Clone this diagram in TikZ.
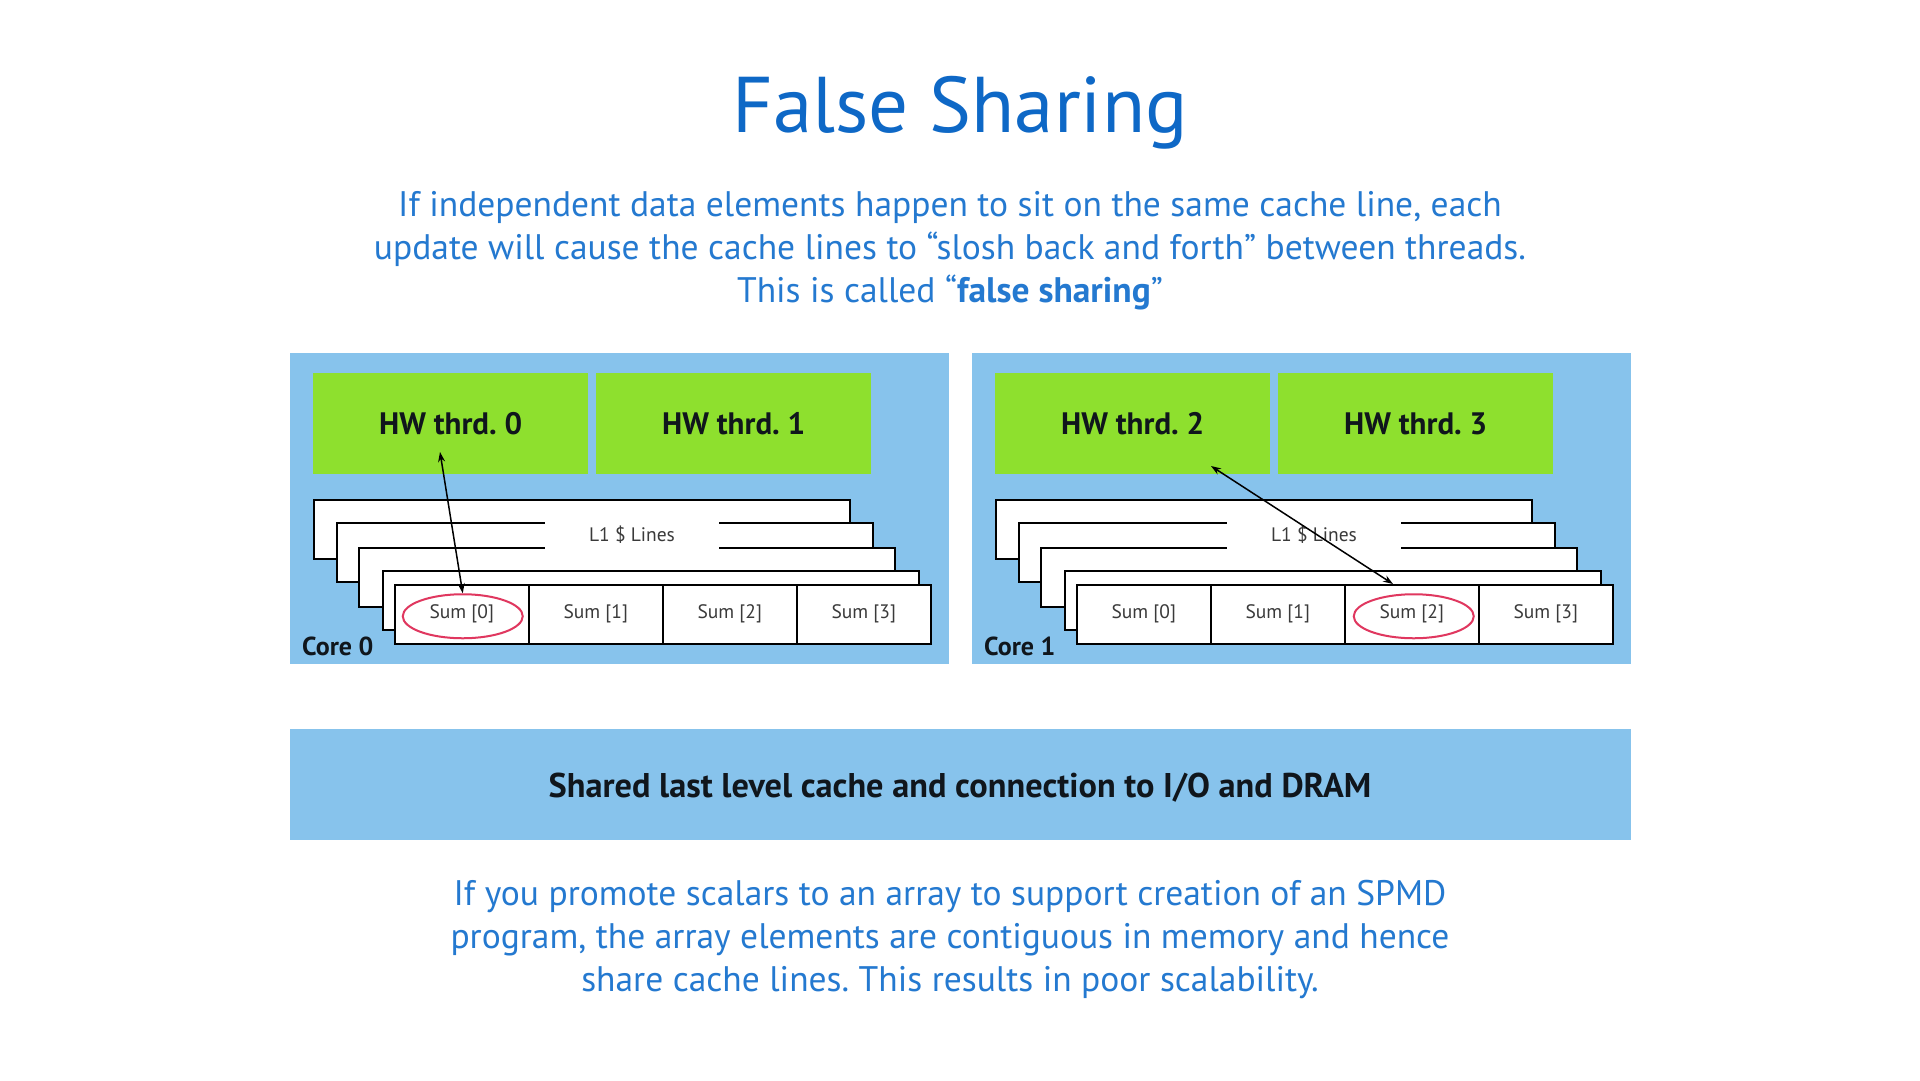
\documentclass[tikz,border=0pt]{standalone}
\usepackage{fontspec}
\setmainfont{PT Sans}
\usetikzlibrary{shapes.geometric,arrows.meta,calc}
\frenchspacing

\definecolor{coreblue}{HTML}{87C3EC}
\definecolor{thrgreen}{HTML}{8EE02E}
\definecolor{titleblue}{HTML}{0E68C6}
\definecolor{bodyblue}{HTML}{2479D0}
\definecolor{darktext}{HTML}{10161C}
\definecolor{celltext}{HTML}{3A3A3A}
\definecolor{ringred}{HTML}{E0375F}

\begin{document}
\begin{tikzpicture}[x=1pt,y=-1pt,
  corebox/.style={fill=coreblue, draw=none, minimum width=659pt, minimum height=311pt, anchor=north west, inner sep=0pt},
  thrbox/.style={fill=thrgreen, draw=none, minimum width=275pt, minimum height=101pt, anchor=north west, inner sep=0pt,
    font=\fontsize{31}{36}\selectfont\bfseries, text=darktext},
  cacheline/.style={draw=black, fill=white, line width=1.5pt, minimum width=536pt, minimum height=59pt, anchor=north west, inner sep=0pt},
  cellbox/.style={draw=black, line width=1.5pt, minimum width=134pt, minimum height=59pt, anchor=north west, inner sep=0pt,
    font=\fontsize{19.5}{22}\selectfont, text=celltext},
  linelabel/.style={fill=white, minimum width=174pt, minimum height=30pt, inner sep=0pt,
    font=\fontsize{19.5}{22}\selectfont, text=celltext},
  ring/.style={ellipse, draw=ringred, line width=2pt, minimum width=120pt, minimum height=44pt, inner sep=0pt},
  corelabel/.style={anchor=base west, inner sep=0pt, font=\fontsize{26}{30}\selectfont\bfseries, text=darktext},
  link/.style={{Stealth[length=10pt,width=7pt]}-{Stealth[length=10pt,width=7pt]}, line width=1.5pt, draw=black},
  bodytext/.style={anchor=base, inner sep=0pt, font=\fontsize{35.5}{43}\selectfont, text=bodyblue}
]
\useasboundingbox[fill=white] (0,0) rectangle (1920,1080);

% Title and explanation
\node[anchor=base, inner sep=0pt, font=\fontsize{79}{90}\selectfont, text=titleblue] (title) at (960,132) {False Sharing};
\node[bodytext] (sub1) at (950,216) {If independent data elements happen to sit on the same cache line, each};
\node[bodytext] (sub2) at (950,259) {update will cause the cache lines to “slosh back and forth” between threads.};
\node[bodytext] (sub3) at (950,302) {This is called “\textbf{false sharing}”};

% The two cores
\foreach \c/\cx in {0/290, 1/972}{
  \pgfmathtruncatemacro{\ta}{2*\c}
  \pgfmathtruncatemacro{\tb}{2*\c+1}
  \node[corebox] (core\c) at (\cx,353) {};
  \node[thrbox] (t\ta) at (\cx+23,373) {HW thrd. \ta};
  \node[thrbox] (t\tb) at (\cx+306,373) {HW thrd. \tb};
  % stack of L1 cache lines, back to front
  \foreach \dx/\dy [count=\k] in {23/146, 46/169, 68/194, 92/217}{
    \node[cacheline] (l\c-\k) at (\cx+\dx,353+\dy) {};
  }
  \node[linelabel] (lab\c) at (\cx+342,535) {L1 \$ Lines};
  \node[cacheline] (front\c) at (\cx+104,584) {};
  \foreach \k in {0,...,3}{
    \node[cellbox] (cell\c-\k) at (\cx+104+134*\k,584) {Sum [\k]};
  }
  \node[corelabel] (clab\c) at (\cx+12,655) {Core \c};
}

% Highlighted elements
\node[ring] (e0) at ($(cell0-0.center)+(1,2)$) {};
\node[ring] (e1) at ($(cell1-2.center)+(2,2)$) {};

% Thread <-> cache element traffic
\coordinate (a0) at (440,452);
\coordinate (a1) at (1211,466);
\coordinate (b1) at (1393,584);
\draw[link] (a0) -- (e0.north);
\draw[link] (a1) -- (b1);

% Shared last level cache
\node[fill=coreblue, minimum width=1341pt, minimum height=111pt, anchor=north west, inner sep=0pt] (llc) at (290,729) {};
\node[anchor=base, inner sep=0pt, font=\fontsize{34.3}{38}\selectfont\bfseries, text=darktext] (llctext) at (960,797)
  {Shared last level cache and connection to I/O and DRAM};

% Closing remark
\node[bodytext] (bot1) at (950,905) {If you promote scalars to an array to support creation of an SPMD};
\node[bodytext] (bot2) at (950,948) {program, the array elements are contiguous in memory and hence};
\node[bodytext] (bot3) at (950,991) {share cache lines. This results in poor scalability.};
\end{tikzpicture}
\end{document}
